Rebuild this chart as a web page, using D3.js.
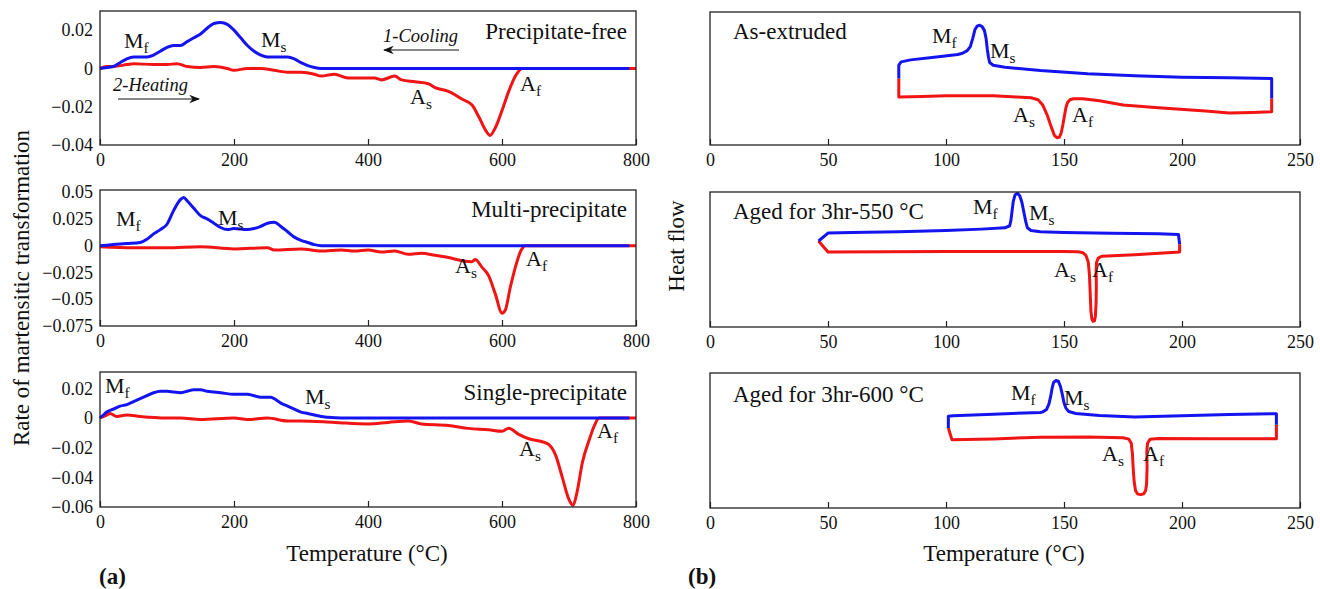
<!DOCTYPE html>
<html><head><meta charset="utf-8">
<script src="https://cdn.jsdelivr.net/npm/d3@7"></script>
<style>
body{margin:0;background:#fff;}
text{font-family:"Liberation Serif","Times New Roman",serif;fill:#111;}
</style></head>
<body><svg id="c" width="1320" height="589"></svg>
<script>
// ---------- DATA ----------
// (a) Rate of martensitic transformation vs temperature
const pfCoolT = [0,10,20,30,40,50,60,70,80,90,100,110,120,130,140,150,160,170,180,190,200,210,220,230,240,250,260,270,280,290,300,310,320,330,400,500,600,700,790];
const pfCoolV = [0,0.0005,0.001,0.003,0.005,0.006,0.006,0.006,0.007,0.009,0.011,0.012,0.012,0.014,0.016,0.018,0.021,0.0235,0.024,0.023,0.02,0.016,0.012,0.009,0.007,0.006,0.006,0.006,0.006,0.005,0.003,0.0015,0.0005,0,0,0,0,0,0];
const pfHeatT = [0,10,20,40,50,80,100,115,130,150,170,190,200,220,240,260,280,300,320,330,350,370,390,410,420,440,450,470,490,500,510,520,540,555,565,575,582,590,600,610,620,630,700,800];
const pfHeatV = [0,0.001,0.001,0.002,0.0025,0.002,0.002,0.0025,0.001,0.0005,0.001,0,-0.001,0,0,-0.001,-0.002,-0.002,-0.003,-0.004,-0.003,-0.005,-0.005,-0.005,-0.006,-0.004,-0.006,-0.007,-0.008,-0.01,-0.011,-0.012,-0.016,-0.019,-0.025,-0.032,-0.035,-0.031,-0.022,-0.012,-0.004,0,0,0];

const mpCoolT = [0,20,40,60,70,80,90,100,110,120,125,130,140,150,160,170,180,190,200,220,230,240,250,260,270,280,290,300,310,320,330,400,500,600,700,790];
const mpCoolV = [0,0.001,0.002,0.003,0.006,0.011,0.015,0.02,0.033,0.043,0.045,0.042,0.035,0.028,0.025,0.021,0.017,0.015,0.016,0.015,0.016,0.018,0.021,0.022,0.018,0.013,0.008,0.005,0.003,0.001,0,0,0,0,0,0];
const mpHeatT = [0,50,100,150,200,250,260,300,330,360,380,400,420,440,460,480,500,520,540,555,560,570,580,590,600,605,612,620,628,635,700,800];
const mpHeatV = [-0.001,-0.002,-0.002,-0.001,-0.003,-0.002,-0.004,-0.003,-0.005,-0.004,-0.005,-0.004,-0.006,-0.005,-0.008,-0.007,-0.009,-0.011,-0.014,-0.015,-0.013,-0.02,-0.028,-0.045,-0.063,-0.06,-0.04,-0.02,-0.005,0,0,0];

const spCoolT = [0,5,10,20,30,40,50,60,70,80,90,100,110,120,130,140,150,160,180,200,220,230,240,255,260,270,280,290,300,310,320,330,340,360,400,500,600,700,790];
const spCoolV = [0,0.002,0.004,0.006,0.008,0.009,0.011,0.013,0.015,0.017,0.018,0.018,0.0175,0.017,0.018,0.019,0.019,0.018,0.017,0.016,0.016,0.015,0.014,0.014,0.013,0.01,0.008,0.006,0.004,0.003,0.002,0.001,0.0005,0,0,0,0,0,0];
const spHeatT = [0,10,15,25,40,60,100,120,150,200,220,250,280,300,350,400,430,460,480,520,550,580,600,610,625,640,660,670,680,690,700,706,712,720,730,738,745,800];
const spHeatV = [0,0.002,0.003,0.001,0.002,0.001,0,0,-0.001,0,-0.001,0,-0.002,-0.002,-0.003,-0.004,-0.003,-0.002,-0.004,-0.005,-0.007,-0.008,-0.009,-0.007,-0.011,-0.014,-0.016,-0.018,-0.025,-0.04,-0.055,-0.059,-0.05,-0.03,-0.015,-0.005,0,0];

// (b) Heat flow (arbitrary units) loops: [temperature, signal]
const aeCool = [[238,35],[238,50],[220,50.5],[200,51],[180,52],[160,53.5],[140,56],[125,58.5],[120,60],[118.5,62],[118,66],[117.5,72],[117,80],[116.3,86],[115.3,89],[114.3,90],[113.3,89.5],[112.3,87],[111.3,80],[110.3,74],[109,71],[107,69],[105,68],[95,66],[85,64],[81,62.5],[80,60],[80,50]];
const aeHeat = [[80,50],[80,36],[90,36.5],[100,37],[120,37],[130,36],[136,35.5],[139,34],[141,30],[143,22],[144.5,14],[146,7],[147,5.5],[148,5.8],[148.8,9],[149.5,15],[150.2,22],[150.8,28],[151.5,32],[152.5,34],[154,34.8],[158,34.7],[165,33.2],[175,30],[190,28],[210,25.5],[220,24],[230,24.5],[238,25],[238,35]];
const a550Cool = [[199,61.3],[198.5,68.5],[190,69],[170,69.5],[150,70],[140,70.5],[136,71.5],[134.5,73.5],[133.8,78],[133,85],[132.2,92],[131.3,97],[130.3,99],[129.3,98],[128.5,93],[128,86],[127.5,79],[127,75],[125,73.5],[115,72.5],[100,71.5],[80,70.5],[60,70],[50,69.6],[46,63.7]];
const a550Heat = [[46,63.7],[50,55.6],[100,56],[150,56],[156,55.8],[158,55],[159.3,53],[160.3,48],[160.8,38],[161.1,25],[161.4,12],[161.8,6],[162.3,4.2],[162.9,4.5],[163.3,8],[163.6,18],[163.7,30],[163.6,42],[163.8,48],[164.5,51],[166,52.4],[180,53.5],[199,55.6],[199,61.3]];
const a600Cool = [[240,61.7],[240,69.9],[220,69.3],[200,68.3],[180,67.4],[165,68.5],[155,70],[152,71.5],[150.8,74],[150,78],[149.3,84],[148.5,90],[147.6,94],[146.6,94.5],[145.6,93],[145,89],[144.4,83],[143.6,77],[142.6,73],[141,71.2],[140,70.8],[120,69.5],[103,68.3],[101,67.9],[101,59.3]];
const a600Heat = [[101,59.3],[102.5,50.6],[120,51.2],[140,52.4],[160,52.6],[175,52],[177.5,51],[178.5,48],[179,40],[179.3,30],[179.7,20],[180.3,13],[181.2,10.3],[182.5,9.9],[183.8,10.5],[184.6,13],[185,18],[185.2,30],[185.1,42],[185.4,48],[186.5,51],[190,51.5],[210,51.3],[240,51.3],[240,61.7]];

const leftXTicks = [0,200,400,600,800];
const rightXTicks = [0,50,100,150,200,250];
const pfYTicks = [0.02,0,-0.02,-0.04];
const mpYTicks = [0.05,0.025,0,-0.025,-0.05,-0.075];
const spYTicks = [0.02,0,-0.02,-0.04,-0.06];
const leftTitles = ["Precipitate-free","Multi-precipitate","Single-precipitate"];
const rightTitles = ["As-extruded","Aged for 3hr-550 °C","Aged for 3hr-600 °C"];

// ---------- DRAW ----------
const svg = d3.select("#c");
const BLUE = "#1414f0", RED = "#f01414";
const fmt = v => v===0 ? "0" : (v<0 ? "\u2212" + String(-v) : String(v));
function zip(T,V){ return T.map((t,i)=>[t,V[i]]); }

function frame(x, y, w, h){
  svg.append("rect").attr("x",x).attr("y",y).attr("width",w).attr("height",h)
     .attr("fill","none").attr("stroke","#222").attr("stroke-width",1.3);
}
function sublabel(x, y, main, sub){
  const size = 22;
  const t = svg.append("text").attr("x",x).attr("y",y).attr("font-size",size);
  t.append("tspan").text(main);
  t.append("tspan").attr("dy",5).attr("font-size",size*0.7).text(sub);
}
function styleAxis(g){
  g.select(".domain").remove();
  g.selectAll("line").attr("stroke","#222").attr("stroke-width",1.2);
  g.selectAll("text").attr("font-size",18).attr("font-family","Liberation Serif").attr("fill","#111");
}

const leftPanels = [
  {top:11, bot:145, dom:[-0.04,0.03], ticks:pfYTicks, cool:zip(pfCoolT,pfCoolV), heat:zip(pfHeatT,pfHeatV), title:leftTitles[0], ty:39,
   labels:[[124,48,"M","f"],[261,47,"M","s"],[410,104,"A","s"],[520,91,"A","f"]]},
  {top:190, bot:326, dom:[-0.075,0.052], ticks:mpYTicks, cool:zip(mpCoolT,mpCoolV), heat:zip(mpHeatT,mpHeatV), title:leftTitles[1], ty:217,
   labels:[[116,226,"M","f"],[218,225,"M","s"],[455,273,"A","s"],[526,266,"A","f"]]},
  {top:372, bot:507, dom:[-0.06,0.031], ticks:spYTicks, cool:zip(spCoolT,spCoolV), heat:zip(spHeatT,spHeatV), title:leftTitles[2], ty:400,
   labels:[[105,393,"M","f"],[305,404,"M","s"],[519,456,"A","s"],[597,438,"A","f"]]}
];
const LX0 = 100, LX1 = 636;
const xL = d3.scaleLinear().domain([0,800]).range([LX0,LX1]);

leftPanels.forEach(p=>{
  const y = d3.scaleLinear().domain(p.dom).range([p.bot,p.top]);
  const line = d3.line().x(d=>xL(d[0])).y(d=>y(d[1])).curve(d3.curveMonotoneX);
  svg.append("path").datum(p.heat).attr("d",line).attr("fill","none").attr("stroke",RED).attr("stroke-width",3).attr("stroke-linejoin","round");
  svg.append("path").datum(p.cool).attr("d",line).attr("fill","none").attr("stroke",BLUE).attr("stroke-width",3).attr("stroke-linejoin","round");
  frame(LX0, p.top, LX1-LX0, p.bot-p.top);
  styleAxis(svg.append("g").attr("transform",`translate(0,${p.bot})`)
    .call(d3.axisBottom(xL).tickValues(leftXTicks).tickSize(-6).tickPadding(8)));
  const gy = svg.append("g").attr("transform",`translate(${LX0},0)`)
    .call(d3.axisLeft(y).tickValues(p.ticks).tickFormat(fmt).tickSize(0).tickPadding(7));
  styleAxis(gy);
  svg.append("text").attr("x",627).attr("y",p.ty).attr("text-anchor","end").attr("font-size",23).text(p.title);
  p.labels.forEach(l=>sublabel(l[0],l[1],l[2],l[3]));
});

// annotations in first panel
svg.append("defs").append("marker").attr("id","ah").attr("viewBox","0 0 10 10").attr("refX",9).attr("refY",5)
  .attr("markerWidth",9).attr("markerHeight",9).attr("orient","auto-start-reverse")
  .append("path").attr("d","M0,1 L10,5 L0,9 L3,5 Z").attr("fill","#111");
svg.append("text").attr("x",383).attr("y",42).attr("font-size",18.5).attr("font-style","italic").text("1-Cooling");
svg.append("line").attr("x1",459).attr("y1",50).attr("x2",384).attr("y2",50).attr("stroke","#111").attr("stroke-width",1.2).attr("marker-end","url(#ah)");
svg.append("text").attr("x",113).attr("y",91).attr("font-size",18.5).attr("font-style","italic").text("2-Heating");
svg.append("line").attr("x1",118).attr("y1",99).attr("x2",199).attr("y2",99).attr("stroke","#111").attr("stroke-width",1.2).attr("marker-end","url(#ah)");

// right panels
const RX0 = 710, RX1 = 1300;
const xR = d3.scaleLinear().domain([0,250]).range([RX0,RX1]);
const rightPanels = [
  {top:12, bot:145, cool:aeCool, heat:aeHeat, title:rightTitles[0], ty:39,
   labels:[[932,43,"M","f"],[990,58,"M","s"],[1013,122,"A","s"],[1072,122,"A","f"]]},
  {top:192, bot:327, cool:a550Cool, heat:a550Heat, title:rightTitles[1], ty:219,
   labels:[[973,214,"M","f"],[1029,220,"M","s"],[1054,277,"A","s"],[1092,277,"A","f"]]},
  {top:373, bot:508, cool:a600Cool, heat:a600Heat, title:rightTitles[2], ty:402,
   labels:[[1011,400,"M","f"],[1064,405,"M","s"],[1102,461,"A","s"],[1143,461,"A","f"]]}
];
rightPanels.forEach(p=>{
  const y = d3.scaleLinear().domain([0,100]).range([p.bot,p.top]);
  const line = d3.line().x(d=>xR(d[0])).y(d=>y(d[1])).curve(d3.curveLinear);
  svg.append("path").datum(p.heat).attr("d",line).attr("fill","none").attr("stroke",RED).attr("stroke-width",3).attr("stroke-linejoin","round");
  svg.append("path").datum(p.cool).attr("d",line).attr("fill","none").attr("stroke",BLUE).attr("stroke-width",3).attr("stroke-linejoin","round");
  frame(RX0, p.top, RX1-RX0, p.bot-p.top);
  styleAxis(svg.append("g").attr("transform",`translate(0,${p.bot})`)
    .call(d3.axisBottom(xR).tickValues(rightXTicks).tickSize(-6).tickPadding(8)));
  svg.append("text").attr("x",733).attr("y",p.ty).attr("font-size",23).text(p.title);
  p.labels.forEach(l=>sublabel(l[0],l[1],l[2],l[3]));
});

// axis titles
svg.append("text").attr("transform","translate(29,288) rotate(-90)").attr("text-anchor","middle").attr("font-size",23).text("Rate of martensitic transformation");
svg.append("text").attr("transform","translate(684,246) rotate(-90)").attr("text-anchor","middle").attr("font-size",23).text("Heat flow");
svg.append("text").attr("x",367).attr("y",561).attr("text-anchor","middle").attr("font-size",23).text("Temperature (°C)");
svg.append("text").attr("x",1004).attr("y",561).attr("text-anchor","middle").attr("font-size",23).text("Temperature (°C)");
svg.append("text").attr("x",99).attr("y",584).attr("font-size",23).attr("font-weight","bold").text("(a)");
svg.append("text").attr("x",688).attr("y",584).attr("font-size",23).attr("font-weight","bold").text("(b)");
</script></body></html>
